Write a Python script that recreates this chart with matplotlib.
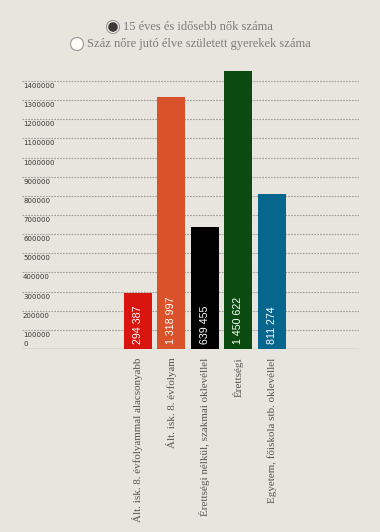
import matplotlib
matplotlib.use("Agg")
import matplotlib.pyplot as plt
from matplotlib.patches import Circle
from matplotlib.transforms import offset_copy, blended_transform_factory

categories = [
    "Ált. isk. 8. évfolyammal alacsonyabb",
    "Ált. isk. 8. évfolyam",
    "Érettségi nélkül, szakmai oklevéllel",
    "Érettségi",
    "Egyetem, főiskola stb. oklevéllel",
]
values = [294387, 1318997, 639455, 1450622, 811274]
value_labels = ["294 387", "1 318 997", "639 455", "1 450 622", "811 274"]
colors = ["#d8160f", "#d9522a", "#000000", "#0b4a10", "#07668e"]
yticks = [0, 100000, 200000, 300000, 400000, 500000, 600000, 700000,
          800000, 900000, 1000000, 1100000, 1200000, 1300000, 1400000]
legend_items = ["15 éves és idősebb nők száma",
                "Száz nőre jutó élve született gyerekek száma"]

W, H = 380, 532
bg = "#e8e5de"
fig = plt.figure(figsize=(W / 100, H / 100), dpi=100, facecolor=bg)

ax_left, ax_right = 22, 359
ax_bottom, ax_top = 349, 70
ax = fig.add_axes([ax_left / W, 1 - ax_bottom / H,
                   (ax_right - ax_left) / W, (ax_bottom - ax_top) / H])
ax.set_facecolor("none")
for s in ax.spines.values():
    s.set_visible(False)

ymax = 1400000 * (ax_bottom - ax_top) / (349 - 81)
ax.set_ylim(0, ymax)
ax.set_xlim(-3.46, 6.60)

# gridlines
for t in yticks[1:]:
    ax.axhline(t, color="#a3a19c", lw=0.8, ls=(0, (1.6, 1.0)), zorder=1)
ax.axhline(0, color="#a8a6a1", lw=1.0, zorder=1)

xs = list(range(len(values)))
ax.bar(xs, values, width=0.84, color=colors, zorder=2)

# value labels inside bars
for x, lab in zip(xs, value_labels):
    tr = offset_copy(ax.transData, fig=fig, x=0, y=5, units="dots")
    ax.text(x, 0, lab, rotation=90, ha="center", va="bottom", color="white",
            fontsize=7.7, family="Liberation Sans", transform=tr, zorder=3)

# y tick labels (inside left)
ax.set_yticks([])
bt = blended_transform_factory(ax.transAxes, ax.transData)
for t in yticks:
    dy = 5 if t == 0 else -5
    tr = offset_copy(bt, fig=fig, x=1, y=dy, units="dots")
    ax.text(0, t, str(t), ha="left", va="center", fontsize=5.0,
            color="#333333", family="DejaVu Sans", transform=tr)

ax.set_xticks(xs)
ax.set_xticklabels(categories, rotation=90, ha="center", va="top",
                   family="Liberation Serif", fontsize=7.9, color="#555555")
ax.tick_params(axis="x", length=0, pad=6)

# legend radio buttons
fax = fig.add_axes([0, 0, 1, 1], facecolor="none")
fax.set_xlim(0, W)
fax.set_ylim(H, 0)
fax.axis("off")
fax.set_aspect("equal")
fax.add_patch(Circle((113, 27), 6.5, facecolor="#f4f2ee", edgecolor="#999999", lw=0.8))
fax.add_patch(Circle((113, 27), 4.8, facecolor="#3e3838", edgecolor="none"))
fax.text(123, 27.5, legend_items[0], ha="left", va="center",
         family="Liberation Serif", fontsize=9.0, color="#7a7a7a")
fax.add_patch(Circle((77, 44), 6.5, facecolor="#fdfcf8", edgecolor="#999999", lw=0.8))
fax.text(87, 44.5, legend_items[1], ha="left", va="center",
         family="Liberation Serif", fontsize=9.0, color="#7a7a7a")

fig.savefig("out.png", dpi=100, facecolor=bg)
